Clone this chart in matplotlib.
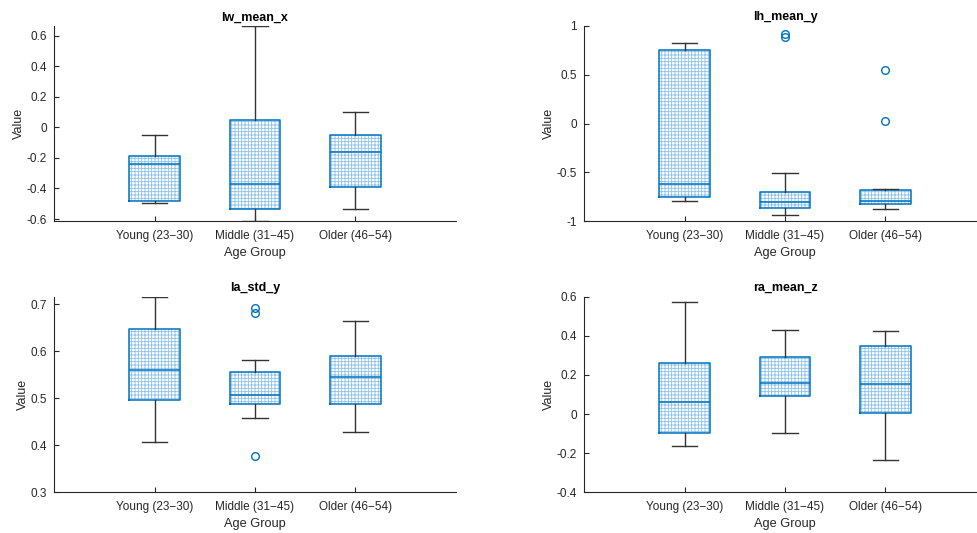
import matplotlib
matplotlib.use("Agg")
import matplotlib.pyplot as plt

plt.rcParams['font.family'] = ['Liberation Sans', 'DejaVu Sans']
plt.rcParams['hatch.linewidth'] = 0.6

categories = ["Young (23\u221230)", "Middle (31\u221245)", "Older (46\u221254)"]

# per subplot: whisker low, q1, median, q3, whisker high, outliers
titles = ["lw_mean_x", "lh_mean_y", "la_std_y", "ra_mean_z"]

lw_whislo = [-0.495, -0.613, -0.534]
lw_q1 = [-0.482, -0.534, -0.392]
lw_med = [-0.240, -0.371, -0.159]
lw_q3 = [-0.187, 0.048, -0.050]
lw_whishi = [-0.047, 0.663, 0.103]
lw_fliers = [[], [], []]

lh_whislo = [-0.791, -0.935, -0.873]
lh_q1 = [-0.757, -0.866, -0.829]
lh_med = [-0.616, -0.801, -0.795]
lh_q3 = [0.757, -0.702, -0.682]
lh_whishi = [0.825, -0.510, -0.668]
lh_fliers = [[], [0.914, 0.890], [0.551, 0.024]]

la_whislo = [0.406, 0.457, 0.429]
la_q1 = [0.496, 0.488, 0.487]
la_med = [0.560, 0.507, 0.546]
la_q3 = [0.647, 0.555, 0.589]
la_whishi = [0.716, 0.581, 0.665]
la_fliers = [[], [0.693, 0.681, 0.378], []]

ra_whislo = [-0.163, -0.098, -0.237]
ra_q1 = [-0.099, 0.091, 0.007]
ra_med = [0.064, 0.160, 0.152]
ra_q3 = [0.262, 0.292, 0.346]
ra_whishi = [0.571, 0.432, 0.425]
ra_fliers = [[], [], []]

ylims = [(-0.613, 0.663), (-1, 1), (0.3, 0.716), (-0.4, 0.6)]
yticks = [[-0.6, -0.4, -0.2, 0, 0.2, 0.4, 0.6],
          [-1, -0.5, 0, 0.5, 1],
          [0.3, 0.4, 0.5, 0.6, 0.7],
          [-0.4, -0.2, 0, 0.2, 0.4, 0.6]]
yticklabels = [["-0.6", "-0.4", "-0.2", "0", "0.2", "0.4", "0.6"],
               ["-1", "-0.5", "0", "0.5", "1"],
               ["0.3", "0.4", "0.5", "0.6", "0.7"],
               ["-0.4", "-0.2", "0", "0.2", "0.4", "0.6"]]

data = [
    (lw_whislo, lw_q1, lw_med, lw_q3, lw_whishi, lw_fliers),
    (lh_whislo, lh_q1, lh_med, lh_q3, lh_whishi, lh_fliers),
    (la_whislo, la_q1, la_med, la_q3, la_whishi, la_fliers),
    (ra_whislo, ra_q1, ra_med, ra_q3, ra_whishi, ra_fliers),
]

BLUE = '#0072BD'
HATCH = '#8cc2ea'
DARK = '#262626'

W, H = 977, 533
fig = plt.figure(figsize=(W / 100, H / 100), dpi=100)

pos = [
    (54 / W, (H - 221) / H, 402 / W, 195 / H),
    (584 / W, (H - 221) / H, 402 / W, 195 / H),
    (54 / W, (H - 492.3) / H, 402 / W, 195.6 / H),
    (584 / W, (H - 492.3) / H, 402 / W, 195.6 / H),
]

for i in range(4):
    ax = fig.add_axes(pos[i])
    lo, q1, med, q3, hi, fl = data[i]
    stats = []
    for j in range(3):
        stats.append(dict(whislo=lo[j], q1=q1[j], med=med[j], q3=q3[j],
                          whishi=hi[j], fliers=fl[j], label=categories[j]))
    xs = [1, 2, 3]
    # hatched fill
    ax.bxp(stats, positions=xs, widths=0.5, patch_artist=True,
           showfliers=False, showcaps=False,
           boxprops=dict(facecolor='white', edgecolor=HATCH, linewidth=0,
                         hatch='+++++'),
           whiskerprops=dict(linewidth=0), medianprops=dict(linewidth=0),
           manage_ticks=False, zorder=1)
    # outlines
    ax.bxp(stats, positions=xs, widths=0.5, patch_artist=False,
           showfliers=True,
           boxprops=dict(color=BLUE, linewidth=1.1),
           medianprops=dict(color=BLUE, linewidth=1.1),
           whiskerprops=dict(color='#333333', linewidth=1.0),
           capprops=dict(color='#333333', linewidth=1.0),
           capwidths=0.25,
           flierprops=dict(marker='o', markerfacecolor='none',
                           markeredgecolor=BLUE, markersize=5.5,
                           markeredgewidth=1.0),
           manage_ticks=False, zorder=2)
    ax.set_xlim(0, 4)
    ax.set_ylim(*ylims[i])
    ax.set_xticks(xs)
    ax.set_xticklabels(categories)
    ax.set_yticks(yticks[i])
    ax.set_yticklabels(yticklabels[i])
    for s in ['top', 'right']:
        ax.spines[s].set_visible(False)
    for s in ['left', 'bottom']:
        ax.spines[s].set_color(DARK)
        ax.spines[s].set_linewidth(0.8)
    ax.tick_params(direction='in', length=3.5, width=0.8, colors=DARK,
                   labelsize=8.5)
    ax.tick_params(axis='x', pad=6.5)
    ax.tick_params(axis='y', pad=5)
    ax.set_xlabel("Age Group", fontsize=9.2, color=DARK, labelpad=3.5)
    ax.set_ylabel("Value", fontsize=9, color=DARK, labelpad=1)
    ax.set_title(titles[i], fontsize=9, fontweight='bold', color='black',
                 pad=4)

fig.savefig("out.png", dpi=100)
